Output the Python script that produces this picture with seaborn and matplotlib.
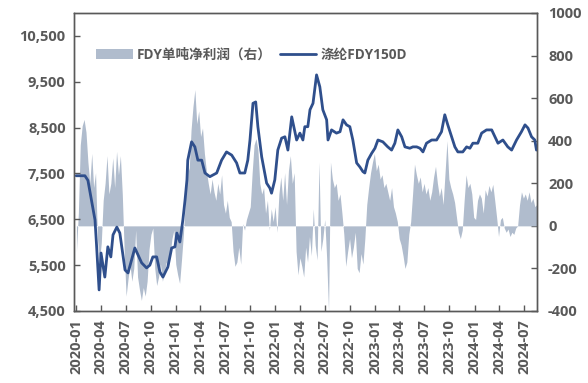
import matplotlib
matplotlib.use("Agg")
import matplotlib.pyplot as plt
from matplotlib.patches import Patch
from matplotlib.lines import Line2D
import pandas as pd
import seaborn as sns

sns.set_theme(style="white")
plt.rcParams['font.family'] = ['Open Sans', 'Noto Sans CJK SC', 'DejaVu Sans']

# ---------------- data ----------------
price_dates = [
    "2020-01-02", "2020-02-03", "2020-02-14", "2020-02-27", "2020-03-11", "2020-03-17", "2020-03-26",
    "2020-04-02", "2020-04-16", "2020-04-27", "2020-05-08", "2020-05-16", "2020-05-30", "2020-06-10",
    "2020-06-29", "2020-07-10", "2020-08-04", "2020-08-29", "2020-09-16", "2020-09-28", "2020-10-09",
    "2020-10-23", "2020-11-04", "2020-11-15", "2020-12-03", "2020-12-17", "2020-12-29", "2021-01-05",
    "2021-01-16", "2021-01-27", "2021-02-04", "2021-02-11", "2021-02-14", "2021-02-28", "2021-03-12",
    "2021-03-23", "2021-04-06", "2021-04-18", "2021-05-06", "2021-05-31", "2021-06-18", "2021-07-06",
    "2021-07-25", "2021-08-12", "2021-08-24", "2021-09-11", "2021-09-22", "2021-09-30", "2021-10-11",
    "2021-10-21", "2021-10-29", "2021-11-12", "2021-11-30", "2021-12-12", "2021-12-18", "2021-12-30",
    "2022-01-10", "2022-01-24", "2022-02-05", "2022-02-16", "2022-03-02", "2022-03-20", "2022-04-01",
    "2022-04-12", "2022-04-19", "2022-04-30", "2022-05-08", "2022-05-19", "2022-06-01", "2022-06-13",
    "2022-06-24", "2022-07-08", "2022-07-13", "2022-07-26", "2022-08-13", "2022-08-26", "2022-09-06",
    "2022-09-19", "2022-10-01", "2022-10-12", "2022-10-26", "2022-11-07", "2022-11-18", "2022-11-25",
    "2022-12-06", "2022-12-20", "2023-01-01", "2023-01-12", "2023-01-30", "2023-02-17", "2023-03-03",
    "2023-03-15", "2023-03-26", "2023-04-09", "2023-04-21", "2023-05-09", "2023-05-20", "2023-06-03",
    "2023-06-15", "2023-06-26", "2023-07-09", "2023-07-28", "2023-08-15", "2023-09-02", "2023-09-14",
    "2023-09-25", "2023-10-09", "2023-10-21", "2023-11-01", "2023-11-19", "2023-12-03", "2023-12-15",
    "2023-12-26", "2024-01-13", "2024-01-27", "2024-02-14", "2024-03-04", "2024-03-16", "2024-03-27",
    "2024-04-14", "2024-05-02", "2024-05-16", "2024-06-03", "2024-06-21", "2024-07-04", "2024-07-15",
    "2024-07-28", "2024-08-09", "2024-08-15",
]
price_values = [
    7450, 7450, 7350, 6920, 6485, 5900, 4960,
    5765, 5240, 5900, 5680, 6160, 6330, 6200,
    5395, 5330, 5875, 5550, 5440, 5500, 5680,
    5680, 5350, 5240, 5460, 5875, 5900, 6200,
    6005, 6485, 6920, 7360, 7790, 8190, 8080,
    7790, 7790, 7510, 7430, 7510, 7790, 7970,
    7900, 7730, 7510, 7510, 7790, 8230, 9030,
    9060, 8520, 7860, 7290, 7180, 7070, 7360,
    8010, 8270, 8300, 8010, 8735, 8230, 8380,
    8230, 8520, 8520, 8890, 9030, 9650, 9390,
    8890, 8670, 8230, 8450, 8380, 8410, 8670,
    8560, 8520, 8230, 7730, 7640, 7540, 7510,
    7790, 7940, 8050, 8230, 8190, 8080, 8010,
    8160, 8450, 8300, 8080, 8050, 8080, 8080,
    8050, 7970, 8160, 8230, 8230, 8410, 8780,
    8560, 8300, 8080, 7970, 7970, 8080, 8050,
    8160, 8160, 8380, 8450, 8450, 8300, 8160,
    8230, 8080, 8010, 8230, 8410, 8560, 8490,
    8300, 8230, 8010,
]

profit_start = "2020-01-03"   # weekly observations
profit_values = [
    -120, 60, 380, 470, 500, 440, 300, 200, 340, 180, 250, -60, -170, -80, 120, 200,
    330, 150, 200, 320, 180, 350, 240, 330, 150, -120, -330, -250, -180, -260, -200, -20,
    -240, -300, -350, -290, -330, -260, -110, -40, -10, -200, -280, -240, -180, -260, -220, -170,
    -200, -140, -60, -20,
    -180, -230, -270, -160, -40, 120, 300, 260, 450, 560, 640, 480, 540, 420, 460, 340,
    260, 200, 150, 220, 160, 120, 200, 150, 240, 100, 60, 120, 40, 20, -120, -190,
    -170, -100, -180, 10, -20, 30, 60, 90, 250, 380, 410, 360, 200, 150, 180, 60,
    120, -20, 80, 20, 90,
    -30, 150, 230, 120, 250, 100, 260, 330, 200, 250, -120, -230, -150, -190, -240, -100,
    -170, -50, -140, 80, -90, -160, 300, -120, -60, 30, -150, -400, 300, 220, 180, 200,
    120, 150, 60, -40, -190, -120, -60, -150, -100, -30, -200, -220, -130, -180, -60, 100,
    180, 250, 300, 340,
    260, 290, 220, 240, 180, 200, 160, 120, 180, 90, 60, 20, -60, -90, -140, -200,
    -170, -40, 20, 150, 290, 240, 200, 230, 160, 200, 150, 180, 120, 160, 230, 280,
    200, 140, 180, 100, 250, 400, 220, 180, 150, 110, 40, -30, -60, -20, 120, 240,
    180, 200, 150, 40,
    30, 120, 150, 130, 60, 170, 140, 190, 160, 195, 120, 40, -50, 30, 40, -10,
    -30, -15, -50, -30, -40, -10, 0, 100, 160, 130, 150, 120, 160, 110, 130, 90,
    100,
]

price_label = "涤纶FDY150D"
profit_label = "FDY单吨净利润（右）"
left_ticks = [4500, 5500, 6500, 7500, 8500, 9500, 10500]
right_ticks = [-400, -200, 0, 200, 400, 600, 800, 1000]

# ---------------- styling ----------------
NAVY = "#2F4F8C"
FILL = "#B0BCCD"
TXT = "#595959"
SPINE = "#595959"

price_df = pd.DataFrame({"date": pd.to_datetime(price_dates), "price": price_values})
profit_df = pd.DataFrame({
    "date": pd.date_range(profit_start, periods=len(profit_values), freq="7D"),
    "profit": profit_values,
})

fig = plt.figure(figsize=(5.88, 3.83), dpi=100)
ax = fig.add_axes([74/588, 1-311/383, (537-74)/588, (311-13)/383])
ax2 = ax.twinx()

# profit area on right axis
ax2.fill_between(profit_df["date"], 0, profit_df["profit"],
                 color=FILL, linewidth=0)
ax2.set_ylim(-400, 1000)
ax2.set_yticks(right_ticks)
ax2.set_yticklabels([str(v) for v in right_ticks])

# price line on left axis (drawn above)
sns.lineplot(data=price_df, x="date", y="price", ax=ax, color=NAVY, linewidth=2.0)
ax.set_zorder(ax2.get_zorder() + 1)
ax.patch.set_visible(False)
ax.set_ylim(4500, 11000)
ax.set_yticks(left_ticks)
ax.set_yticklabels([f"{v:,}" for v in left_ticks])
ax.set_xlabel("")
ax.set_ylabel("")
ax2.set_ylabel("")

ax.set_xlim(pd.Timestamp("2019-12-25"), pd.Timestamp("2024-08-17"))
xt = pd.date_range("2020-01-01", "2024-07-01", freq="3MS")
ax.set_xticks(xt)
ax.set_xticklabels([d.strftime("%Y-%m") for d in xt], rotation=90)

for a in (ax, ax2):
    for s in a.spines.values():
        s.set_color(SPINE)
        s.set_linewidth(1.0)
        s.set_visible(True)
    a.grid(False)

ax.tick_params(axis="y", direction="in", length=4, width=1, color=SPINE,
               labelsize=10.5, labelcolor=TXT, pad=6, left=True)
ax.tick_params(axis="x", direction="in", length=4, width=1, color=SPINE,
               labelsize=10.5, labelcolor=TXT, pad=6, bottom=True)
ax2.tick_params(axis="y", direction="in", length=4, width=1, color=SPINE,
                labelsize=10.5, labelcolor=TXT, pad=8, right=True)
for lab in ax.get_xticklabels() + ax.get_yticklabels() + ax2.get_yticklabels():
    lab.set_fontweight("bold")

handles = [Patch(facecolor=FILL, edgecolor="none"),
           Line2D([0], [0], color=NAVY, linewidth=2.0)]
leg = ax.legend(handles, [profit_label, price_label], loc="center left",
                bbox_to_anchor=(0.047, 0.859), ncol=2, frameon=False,
                borderpad=0, borderaxespad=0, handlelength=2.7,
                handletextpad=0.3, columnspacing=0.6,
                prop={"size": 9.8, "weight": "bold"})
for t in leg.get_texts():
    t.set_color(TXT)

fig.savefig("out.png", dpi=100)
